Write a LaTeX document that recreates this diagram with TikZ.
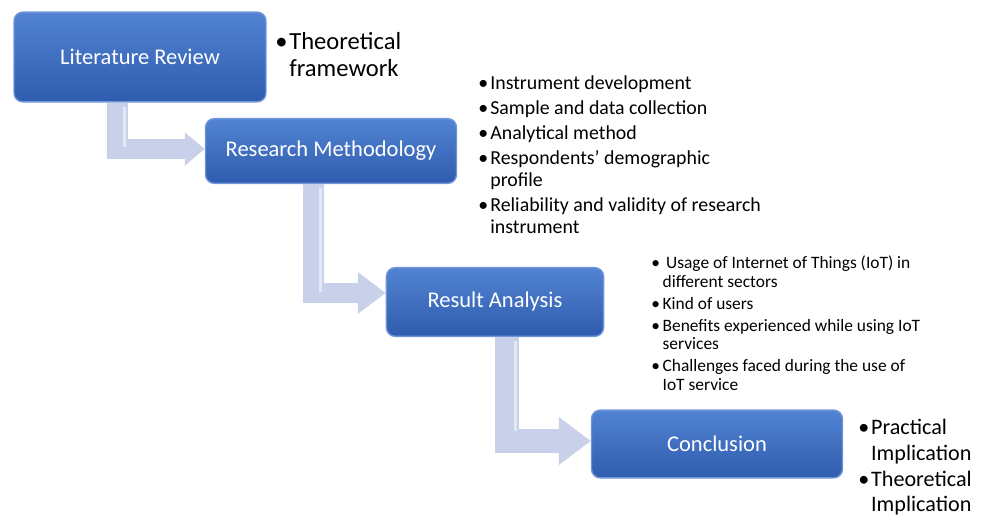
\documentclass[tikz,border=0pt]{standalone}
\usepackage{fontspec}
\setmainfont{Carlito}
\usetikzlibrary{calc,arrows.meta}
\def\pxu{0.5669pt}
\definecolor{boxtop}{HTML}{5283D3}
\definecolor{boxbot}{HTML}{2F5CAE}
\definecolor{boxedge}{HTML}{6F95D8}
\definecolor{flowcol}{HTML}{C9D0E9}
\definecolor{flowlight}{HTML}{E4E8F5}
\tikzset{
	box/.style={shape=rectangle, rounded corners=5pt, top color=boxtop, bottom color=boxbot, draw=boxedge, line width=0.8pt, text=white, inner sep=0pt, font=\fontsize{12.8}{15}\selectfont},
	flow/.style={draw=flowcol, line width=21*\pxu},
	shine/.style={draw=flowlight, line width=3*\pxu},
	note/.style={inner sep=0pt, anchor=base west, align=left}
}

\begin{document}
\begin{tikzpicture}[x=0.02cm, y=-0.02cm]
			%%%%% START %%%%%
			\useasboundingbox (0, 0) rectangle (981, 516);
			
			\node[box, minimum width=253*\pxu, minimum height=90*\pxu] (lit) at (140, 57) {Literature Review};
			\node[box, minimum width=252*\pxu, minimum height=65*\pxu] (meth) at (331, 151) {Research Methodology};
			\node[box, minimum width=218*\pxu, minimum height=69*\pxu] (res) at (495, 302) {Result Analysis};
			\node[box, minimum width=252*\pxu, minimum height=68*\pxu] (conc) at (717, 444) {Conclusion};
			
			% bent arrows between the steps
			\draw[flow, -{Triangle[length=20*\pxu, width=32*\pxu]}] ($(lit.south west)+(104, 0)$) |- ($(meth.west)+(0, -2)$);
			\draw[flow, -{Triangle[length=28*\pxu, width=40*\pxu]}] ($(meth.south west)+(109, 0)$) |- ($(res.west)+(0, -9)$);
			\draw[flow, line width=24*\pxu, -{Triangle[length=32*\pxu, width=46*\pxu]}] ($(res.south west)+(121, 0)$) |- ($(conc.west)+(0, -3)$);
			
			\draw[shine] ($(lit.south west)+(111, 4)$) -- ($(lit.south west)+(111, 44)$);
			\draw[shine] ($(meth.south west)+(116, 4)$) -- ($(meth.south west)+(116, 108)$);
			\draw[shine] ($(res.south west)+(130, 4)$) -- ($(res.south west)+(130, 94)$);
			
			\node[note, font=\fontsize{14}{15.3}\selectfont] (litpts) at (275, 50) {%
				\begin{tabular}[t]{@{}l@{\hspace{1pt}}l@{}}
					\textbullet & Theoretical\\
					& framework
				\end{tabular}};
			
			\node[note, font=\fontsize{11.3}{12.5}\selectfont] (methpts) at (478, 90) {%
				\begin{tabular}[t]{@{}l@{\hspace{1.2pt}}l@{}}
					\textbullet & Instrument development\\[1.6pt]
					\textbullet & Sample and data collection\\[1.6pt]
					\textbullet & Analytical method\\[1.6pt]
					\textbullet & Respondents’ demographic\\
					& profile\\[1.6pt]
					\textbullet & Reliability and validity of research\\
					& instrument
				\end{tabular}};
			
			\node[note, font=\fontsize{9.9}{10.5}\selectfont] (respts) at (651, 269) {%
				\begin{tabular}[t]{@{}l@{\hspace{1.5pt}}l@{}}
					\textbullet & \hspace{2pt}Usage of Internet of Things (IoT) in\\
					& different sectors\\[2pt]
					\textbullet & Kind of users\\[2pt]
					\textbullet & Benefits experienced while using IoT\\
					& services\\[2pt]
					\textbullet & Challenges faced during the use of\\
					& IoT service
				\end{tabular}};
			
			\node[note, font=\fontsize{12.6}{14.6}\selectfont] (concpts) at (858, 435) {%
				\begin{tabular}[t]{@{}l@{\hspace{1pt}}l@{}}
					\textbullet & Practical\\
					& Implication\\
					\textbullet & Theoretical\\
					& Implication
				\end{tabular}};
			
			%%%%% END %%%%%
\end{tikzpicture}
\end{document}
